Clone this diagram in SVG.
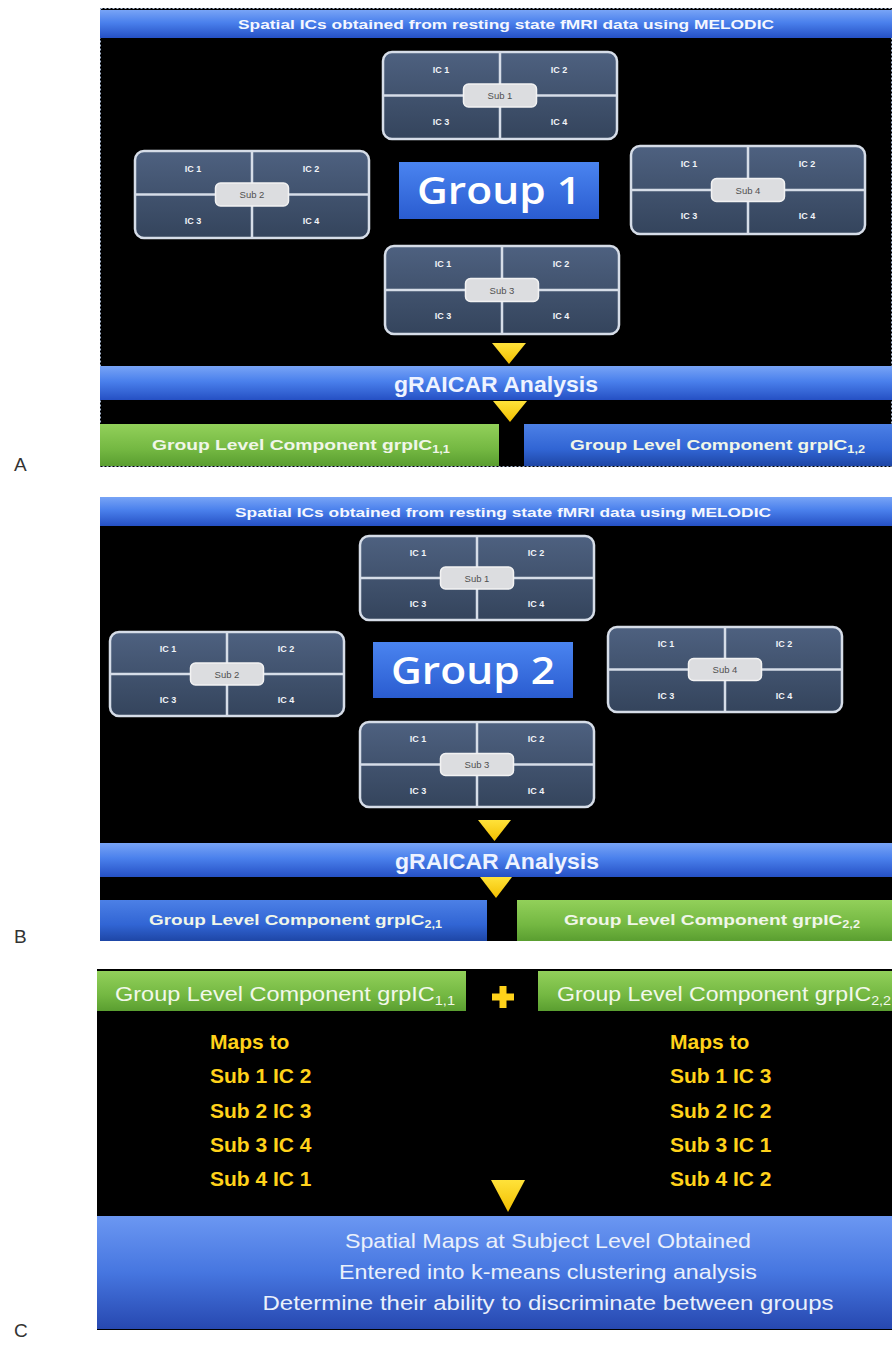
<svg xmlns="http://www.w3.org/2000/svg" width="892" height="1347" viewBox="0 0 892 1347">
<defs>
<linearGradient id="gBlue" x1="0" y1="0" x2="0" y2="1">
<stop offset="0" stop-color="#78a4f6"/><stop offset="0.45" stop-color="#4a80ec"/><stop offset="1" stop-color="#2550c4"/>
</linearGradient>
<linearGradient id="gBlueDark" x1="0" y1="0" x2="0" y2="1">
<stop offset="0" stop-color="#4c80e6"/><stop offset="0.6" stop-color="#3165d4"/><stop offset="1" stop-color="#1e46a6"/>
</linearGradient>
<linearGradient id="gGreen" x1="0" y1="0" x2="0" y2="1">
<stop offset="0" stop-color="#92d05a"/><stop offset="0.6" stop-color="#74b842"/><stop offset="1" stop-color="#5a9e30"/>
</linearGradient>
<linearGradient id="gGroup" x1="0" y1="0" x2="0" y2="1">
<stop offset="0" stop-color="#4a84f0"/><stop offset="1" stop-color="#2a5cd0"/>
</linearGradient>
<linearGradient id="gSlate" x1="0" y1="0" x2="0" y2="1">
<stop offset="0" stop-color="#4e6180"/><stop offset="1" stop-color="#34445c"/>
</linearGradient>
<linearGradient id="gBox" x1="0" y1="0" x2="0" y2="1">
<stop offset="0" stop-color="#6b97f2"/><stop offset="0.5" stop-color="#4676e0"/><stop offset="1" stop-color="#2748b0"/>
</linearGradient>
<linearGradient id="gYellow" x1="0" y1="0" x2="0" y2="1">
<stop offset="0" stop-color="#ffe23a"/><stop offset="1" stop-color="#f2bf00"/>
</linearGradient>
<style>
.panel{fill:#000}
.bar{fill:url(#gBlue)}
.bbar{fill:url(#gBlueDark)}
.gbar{fill:url(#gGreen)}
.sub{fill:url(#gSlate);stroke:#d6dde8;stroke-width:2.5}
.cross{stroke:#d6dde8;stroke-width:2.5}
.pill{fill:#dcdde0;stroke:#f2f2f2;stroke-width:1.5}
.ic{font-family:"Liberation Sans",Arial,sans-serif;font-size:9px;font-weight:bold;fill:#f2f4f8;text-anchor:middle}
.sl{font-family:"Liberation Sans",Arial,sans-serif;font-size:9.5px;fill:#505050;text-anchor:middle}
.title{font-family:"Liberation Sans",Arial,sans-serif;font-size:13px;font-weight:bold;fill:#f4f7ff}
.an{font-family:"Liberation Sans",Arial,sans-serif;font-size:22px;font-weight:bold;fill:#eef3ff;text-anchor:middle}
.gl{font-family:"Liberation Sans",Arial,sans-serif;font-size:15px;font-weight:bold;fill:#f0f6e8}
.glc{font-family:"Liberation Sans",Arial,sans-serif;font-size:21px;fill:#f2f8ea}
.grp{font-family:"Open Sans","DejaVu Sans",sans-serif;font-size:38px;font-weight:600;fill:#ffffff;text-anchor:middle}
.map{font-family:"Liberation Sans",Arial,sans-serif;font-size:21px;font-weight:bold;fill:#ffd21a}
.res{font-family:"Liberation Sans",Arial,sans-serif;font-size:21px;fill:#eaf0fb;text-anchor:middle}
.lbl{font-family:"Liberation Sans",Arial,sans-serif;font-size:19px;fill:#333}
.tri{fill:url(#gYellow)}
</style>
</defs>
<rect width="892" height="1347" fill="#ffffff"/>

<!-- Panel A -->
<g id="panelA">
<rect class="panel" x="100" y="8" width="792" height="459"/>
<rect x="100.5" y="8.5" width="791" height="458" fill="none" stroke="#a9b9d2" stroke-width="1" stroke-dasharray="2 2"/>
</g>
<g id="titleA">
<rect class="bar" x="100" y="10" width="792" height="28"/>
<text class="title" x="238" y="29" textLength="536" lengthAdjust="spacingAndGlyphs">Spatial ICs obtained from resting state fMRI data using MELODIC</text>
</g>
<g id="A_sub1" transform="translate(383,52)">
<rect class="sub" x="0" y="0" width="234" height="87" rx="9"/>
<line class="cross" x1="117" y1="0" x2="117" y2="87"/><line class="cross" x1="0" y1="43.5" x2="234" y2="43.5"/>
<text class="ic" x="58" y="21">IC 1</text><text class="ic" x="176" y="21">IC 2</text>
<text class="ic" x="58" y="73">IC 3</text><text class="ic" x="176" y="73">IC 4</text>
<rect class="pill" x="80.5" y="32" width="73" height="23" rx="5"/>
<text class="sl" x="117" y="47">Sub 1</text>
</g>
<g id="A_sub2" transform="translate(135,151)">
<rect class="sub" x="0" y="0" width="234" height="87" rx="9"/>
<line class="cross" x1="117" y1="0" x2="117" y2="87"/><line class="cross" x1="0" y1="43.5" x2="234" y2="43.5"/>
<text class="ic" x="58" y="21">IC 1</text><text class="ic" x="176" y="21">IC 2</text>
<text class="ic" x="58" y="73">IC 3</text><text class="ic" x="176" y="73">IC 4</text>
<rect class="pill" x="80.5" y="32" width="73" height="23" rx="5"/>
<text class="sl" x="117" y="47">Sub 2</text>
</g>
<g id="A_group">
<rect x="399" y="162" width="200" height="57" fill="url(#gGroup)"/>
<text class="grp" x="499" y="204" textLength="164" lengthAdjust="spacingAndGlyphs">Group 1</text>
</g>
<g id="A_sub4" transform="translate(631,146)">
<rect class="sub" x="0" y="0" width="234" height="88" rx="9"/>
<line class="cross" x1="117" y1="0" x2="117" y2="88"/><line class="cross" x1="0" y1="44" x2="234" y2="44"/>
<text class="ic" x="58" y="21">IC 1</text><text class="ic" x="176" y="21">IC 2</text>
<text class="ic" x="58" y="73">IC 3</text><text class="ic" x="176" y="73">IC 4</text>
<rect class="pill" x="80.5" y="32.5" width="73" height="23" rx="5"/>
<text class="sl" x="117" y="47.5">Sub 4</text>
</g>
<g id="A_sub3" transform="translate(385,246)">
<rect class="sub" x="0" y="0" width="234" height="88" rx="9"/>
<line class="cross" x1="117" y1="0" x2="117" y2="88"/><line class="cross" x1="0" y1="44" x2="234" y2="44"/>
<text class="ic" x="58" y="21">IC 1</text><text class="ic" x="176" y="21">IC 2</text>
<text class="ic" x="58" y="73">IC 3</text><text class="ic" x="176" y="73">IC 4</text>
<rect class="pill" x="80.5" y="32.5" width="73" height="23" rx="5"/>
<text class="sl" x="117" y="47.5">Sub 3</text>
</g>
<g id="A_graicar">
<rect class="bar" x="100" y="366" width="792" height="34"/>
<text class="an" x="496" y="392" textLength="204" lengthAdjust="spacingAndGlyphs">gRAICAR Analysis</text>
</g>
<g id="A_grp11">
<rect class="gbar" x="100" y="424" width="399" height="42"/>
<text class="gl" x="152" y="450" textLength="298" lengthAdjust="spacingAndGlyphs">Group Level Component grpIC<tspan font-size="10" dy="3">1,1</tspan></text>
</g>
<g id="A_grp12">
<rect class="bbar" x="524" y="424" width="368" height="42"/>
<text class="gl" x="570" y="450" textLength="295" lengthAdjust="spacingAndGlyphs">Group Level Component grpIC<tspan font-size="10" dy="3">1,2</tspan></text>
</g>
<text class="lbl" x="14" y="471">A</text>

<!-- Panel B -->
<g id="panelB">
<rect class="panel" x="100" y="497" width="792" height="444"/>
</g>
<g id="titleB">
<rect class="bar" x="100" y="497" width="792" height="29"/>
<text class="title" x="235" y="517" textLength="536" lengthAdjust="spacingAndGlyphs">Spatial ICs obtained from resting state fMRI data using MELODIC</text>
</g>
<g id="B_sub1" transform="translate(360,536)">
<rect class="sub" x="0" y="0" width="234" height="84" rx="9"/>
<line class="cross" x1="117" y1="0" x2="117" y2="84"/><line class="cross" x1="0" y1="42" x2="234" y2="42"/>
<text class="ic" x="58" y="20">IC 1</text><text class="ic" x="176" y="20">IC 2</text>
<text class="ic" x="58" y="71">IC 3</text><text class="ic" x="176" y="71">IC 4</text>
<rect class="pill" x="80.5" y="31" width="73" height="22" rx="5"/>
<text class="sl" x="117" y="45.5">Sub 1</text>
</g>
<g id="B_sub2" transform="translate(110,632)">
<rect class="sub" x="0" y="0" width="234" height="84" rx="9"/>
<line class="cross" x1="117" y1="0" x2="117" y2="84"/><line class="cross" x1="0" y1="42" x2="234" y2="42"/>
<text class="ic" x="58" y="20">IC 1</text><text class="ic" x="176" y="20">IC 2</text>
<text class="ic" x="58" y="71">IC 3</text><text class="ic" x="176" y="71">IC 4</text>
<rect class="pill" x="80.5" y="31" width="73" height="22" rx="5"/>
<text class="sl" x="117" y="45.5">Sub 2</text>
</g>
<g id="B_group">
<rect x="373" y="642" width="200" height="56" fill="url(#gGroup)"/>
<text class="grp" x="473" y="684" textLength="164" lengthAdjust="spacingAndGlyphs">Group 2</text>
</g>
<g id="B_sub4" transform="translate(608,627)">
<rect class="sub" x="0" y="0" width="234" height="85" rx="9"/>
<line class="cross" x1="117" y1="0" x2="117" y2="85"/><line class="cross" x1="0" y1="42.5" x2="234" y2="42.5"/>
<text class="ic" x="58" y="20">IC 1</text><text class="ic" x="176" y="20">IC 2</text>
<text class="ic" x="58" y="72">IC 3</text><text class="ic" x="176" y="72">IC 4</text>
<rect class="pill" x="80.5" y="31.5" width="73" height="22" rx="5"/>
<text class="sl" x="117" y="46">Sub 4</text>
</g>
<g id="B_sub3" transform="translate(360,722)">
<rect class="sub" x="0" y="0" width="234" height="85" rx="9"/>
<line class="cross" x1="117" y1="0" x2="117" y2="85"/><line class="cross" x1="0" y1="42.5" x2="234" y2="42.5"/>
<text class="ic" x="58" y="20">IC 1</text><text class="ic" x="176" y="20">IC 2</text>
<text class="ic" x="58" y="72">IC 3</text><text class="ic" x="176" y="72">IC 4</text>
<rect class="pill" x="80.5" y="31.5" width="73" height="22" rx="5"/>
<text class="sl" x="117" y="46">Sub 3</text>
</g>
<g id="B_graicar">
<rect class="bar" x="100" y="843" width="792" height="34"/>
<text class="an" x="497" y="869" textLength="204" lengthAdjust="spacingAndGlyphs">gRAICAR Analysis</text>
</g>
<g id="B_grp21">
<rect class="bbar" x="100" y="900" width="387" height="41"/>
<text class="gl" x="149" y="925" textLength="293" lengthAdjust="spacingAndGlyphs">Group Level Component grpIC<tspan font-size="10" dy="3">2,1</tspan></text>
</g>
<g id="B_grp22">
<rect class="gbar" x="517" y="900" width="375" height="41"/>
<text class="gl" x="564" y="925" textLength="296" lengthAdjust="spacingAndGlyphs">Group Level Component grpIC<tspan font-size="10" dy="3">2,2</tspan></text>
</g>
<text class="lbl" x="14" y="943">B</text>

<!-- Panel C -->
<g id="panelC">
<rect class="panel" x="97" y="969" width="795" height="361"/>
</g>
<g id="C_grp11">
<rect class="gbar" x="97" y="971" width="369" height="40"/>
<text class="glc" x="115" y="1001" textLength="340" lengthAdjust="spacingAndGlyphs">Group Level Component grpIC<tspan font-size="13" dy="4">1,1</tspan></text>
</g>
<g id="C_plus">
<path d="M499.5 986 h7 v7.5 h7.5 v7 h-7.5 v7.5 h-7 v-7.5 h-7.5 v-7 h7.5 z" fill="#ffd21a"/>
</g>
<g id="C_grp22">
<rect class="gbar" x="538" y="971" width="354" height="40"/>
<text class="glc" x="557" y="1001" textLength="334" lengthAdjust="spacingAndGlyphs">Group Level Component grpIC<tspan font-size="13" dy="4">2,2</tspan></text>
</g>
<g id="C_mapsLeft">
<text class="map" x="210" y="1049">Maps to</text>
<text class="map" x="210" y="1083">Sub 1 IC 2</text>
<text class="map" x="210" y="1118">Sub 2 IC 3</text>
<text class="map" x="210" y="1152">Sub 3 IC 4</text>
<text class="map" x="210" y="1186">Sub 4 IC 1</text>
</g>
<g id="C_mapsRight">
<text class="map" x="670" y="1049">Maps to</text>
<text class="map" x="670" y="1083">Sub 1 IC 3</text>
<text class="map" x="670" y="1118">Sub 2 IC 2</text>
<text class="map" x="670" y="1152">Sub 3 IC 1</text>
<text class="map" x="670" y="1186">Sub 4 IC 2</text>
</g>
<g id="C_result">
<rect x="97" y="1216" width="795" height="113" fill="url(#gBox)"/>
<text class="res" x="548" y="1248" textLength="406" lengthAdjust="spacingAndGlyphs">Spatial Maps at Subject Level Obtained</text>
<text class="res" x="548" y="1279" textLength="418" lengthAdjust="spacingAndGlyphs">Entered into k-means clustering analysis</text>
<text class="res" x="548" y="1310" textLength="571" lengthAdjust="spacingAndGlyphs">Determine their ability to discriminate between groups</text>
</g>
<text class="lbl" x="14" y="1337">C</text>

<!-- Connectors -->
<g id="connectors">
<polygon class="tri" points="492,343 526,343 509,364"/>
<polygon class="tri" points="493,401 527,401 510,422"/>
<polygon class="tri" points="478,820 511,820 494.5,841"/>
<polygon class="tri" points="480,877 512,877 496,898"/>
<polygon class="tri" points="491,1180 525,1180 508,1212"/>
</g>
</svg>
